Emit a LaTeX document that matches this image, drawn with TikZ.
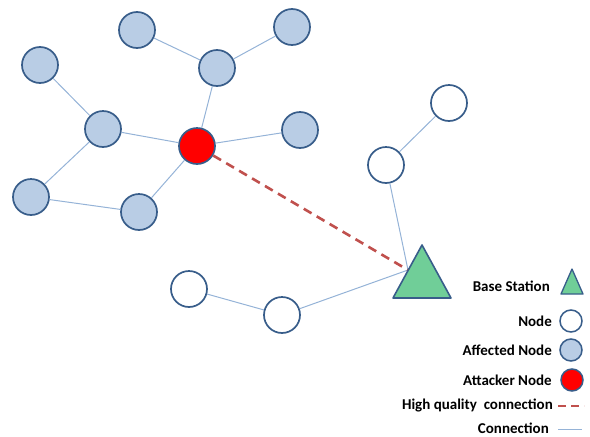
\documentclass[tikz,border=0pt]{standalone}
\usepackage{fontspec}
\setmainfont{Carlito}
\definecolor{affill}{RGB}{185,205,229}
\definecolor{nodeedge}{RGB}{56,93,138}
\definecolor{linkcol}{RGB}{149,179,215}
\definecolor{hqcol}{RGB}{192,80,77}
\definecolor{bsgreen}{RGB}{112,206,152}
\begin{document}
\begin{tikzpicture}[x=1pt,y=-1pt,
  base/.style={circle,draw=nodeedge,line width=1.7pt,minimum size=36pt,inner sep=0pt},
  affected/.style={base,fill=affill},
  plain/.style={base,fill=white},
  attacker/.style={base,fill=red},
  link/.style={draw=linkcol,line width=1pt},
  hq/.style={draw=hqcol,line width=2.6pt,dash pattern=on 9pt off 6pt},
  legtext/.style={anchor=east,font=\fontsize{15}{17}\selectfont\bfseries,inner sep=0pt},
  smallbase/.style={circle,draw=nodeedge,line width=1.5pt,minimum size=22pt,inner sep=0pt}]
\useasboundingbox (0,0) rectangle (590,437);
% affected nodes
\node[affected] (a1) at (137,30) {};
\node[affected] (a2) at (292,27) {};
\node[affected] (a3) at (40,65) {};
\node[affected] (a4) at (217,68) {};
\node[affected] (a5) at (103,129) {};
\node[affected] (a6) at (300,130) {};
\node[affected] (a7) at (31,197) {};
\node[affected] (a8) at (139,212) {};
\node[attacker] (at) at (197,146) {};
% plain nodes
\node[plain] (w1) at (449,103) {};
\node[plain] (w2) at (386,165) {};
\node[plain] (w3) at (189,289) {};
\node[plain] (w4) at (282,315) {};
% base station
\coordinate (bsin) at (408,270);
\path[link] (a1) -- (a4);
\path[link] (a4) -- (a2);
\path[link] (a4) -- (at);
\path[link] (a3) -- (a5);
\path[link] (a5) -- (at);
\path[link] (a5) -- (a7);
\path[link] (a7) -- (a8);
\path[link] (a8) -- (at);
\path[link] (at) -- (a6);
\path[link] (w1) -- (w2);
\path[link] (w2) -- (bsin);
\path[link] (w3) -- (w4);
\path[link] (w4) -- (bsin);
\path[hq] (at) -- (bsin);
\draw[draw=nodeedge,fill=bsgreen,line width=1.6pt,line join=round] (422,245) -- (451,298) -- (393,298) -- cycle;
% legend
\node[legtext] (lbs) at (550,286) {Base Station};
\draw[draw=nodeedge,fill=bsgreen,line width=1.3pt,line join=round] (572,269) -- (583,294) -- (561,294) -- cycle;
\node[legtext] (lnode) at (552,321) {Node};
\node[smallbase,fill=white] (lnc) at (571,321) {};
\node[legtext] (laff) at (552,350) {Affected Node};
\node[smallbase,fill=affill] (lac) at (571,350) {};
\node[legtext] (latt) at (552,380) {Attacker Node};
\node[smallbase,fill=red] (ltc) at (572,380) {};
\node[legtext] (lhq) at (553,405) {High quality\ \ connection};
\coordinate (hq1) at (558,406);
\coordinate (hq2) at (584,406);
\path[hq,dash pattern=on 8pt off 5pt] (hq1) -- (hq2);
\node[legtext] (lcon) at (549,428) {Connection};
\coordinate (c1) at (558,429);
\coordinate (c2) at (582,429);
\path[link] (c1) -- (c2);
\end{tikzpicture}
\end{document}
